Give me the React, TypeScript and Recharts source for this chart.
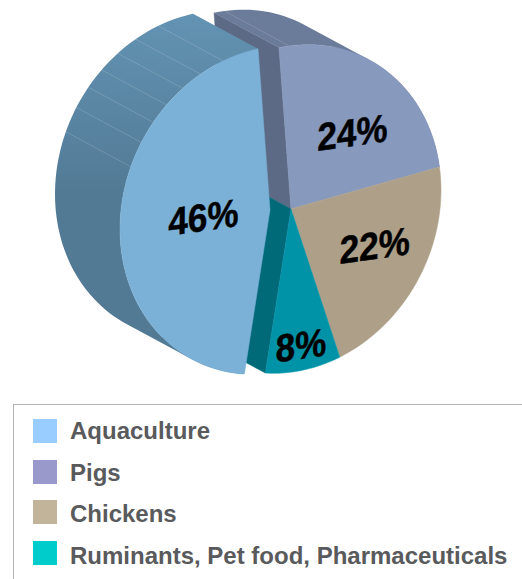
import { Legend, Pie, PieChart } from "recharts";

const categories = ["Aquaculture", "Pigs", "Chickens", "Ruminants, Pet food, Pharmaceuticals"];
const shares = [46, 24, 22, 8];
const legendColors = ["#99CCFF", "#9999CC", "#C2B49A", "#00CCCC"];
const faceColors = ["#7BB1D6", "#8799BD", "#AEA088", "#0093A8"];
const arcWallColors = ["url(#aqua-side)", "#6B7B9A", null, null];
const startWallColors = [null, "#5C6A85", null, null];
const endWallColors = [null, null, null, "#006A79"];

// how far out along the wedge each percent label sits, then a small nudge
const labelReach = [0.45, 0.57, 0.63, 0.84];
const labelNudge = [[1, 2], [8, 3], [3, -7], [0, 1]];
// clock degrees of the facet seams on the side walls
const aquaSeams = [292.5, 301.5, 309.5, 317, 325, 333, 342.4];
const pigSeams = [0];

const slices = categories.map((name, i) => ({
  name,
  value: shares[i],
  idx: i,
}));
// painted back to front, aquaculture goes last so it sits over the pig wall
const drawOrder = [...slices.slice(1), slices[0]];

const CX = 291;
const CY = 209;
const RADIUS = 163;
const DEPTH = { x: -65, y: -35 };
const EXPLODE = { x: -21, y: 1 };

type Pt = { x: number; y: number };

// tilted pie: the round sector coming from recharts goes through this shear
function project(cx: number, cy: number, r: number, deg: number): Pt {
  const a = (deg * Math.PI) / 180;
  const k = r / RADIUS;
  return {
    x: cx + k * (150 * Math.cos(a) - 1.5 * Math.sin(a)),
    y: cy + k * (-20.7 * Math.cos(a) - 163 * Math.sin(a)),
  };
}

function arc(cx: number, cy: number, r: number, from: number, to: number) {
  const steps = Math.max(2, Math.ceil(Math.abs(to - from) / 2));
  const pts: Pt[] = [];
  for (let i = 0; i <= steps; i++) pts.push(project(cx, cy, r, from + ((to - from) * i) / steps));
  return pts;
}

function toPath(pts: Pt[]) {
  return "M" + pts.map((p) => `${p.x.toFixed(2)} ${p.y.toFixed(2)}`).join("L") + "Z";
}

function shift(p: Pt): Pt {
  return { x: p.x + DEPTH.x, y: p.y + DEPTH.y };
}

function centerOf(idx: number, cx: number, cy: number): Pt {
  return idx === 0 ? { x: cx + EXPLODE.x, y: cy + EXPLODE.y } : { x: cx, y: cy };
}

// the arc swept along the depth, one quad per step, all wound the same way
function sweptArc(front: Pt[]) {
  let d = "";
  for (let i = 0; i < front.length - 1; i++) {
    const quad = [front[i], front[i + 1], shift(front[i + 1]), shift(front[i])];
    let area = 0;
    quad.forEach((p, j) => {
      const n = quad[(j + 1) % 4];
      area += p.x * n.y - n.x * p.y;
    });
    d += toPath(area < 0 ? quad.reverse() : quad);
  }
  return d;
}

function WallShape(props: any) {
  const { cx, cy, outerRadius, startAngle, endAngle, payload } = props;
  const idx = payload.idx;
  const c = centerOf(idx, cx, cy);
  const front = arc(c.x, c.y, outerRadius, startAngle, endAngle);
  const first = front[0];
  const last = front[front.length - 1];
  const seams = idx === 0 ? aquaSeams : idx === 1 ? pigSeams : [];
  return (
    <g>
      {startWallColors[idx] && (
        <path d={toPath([c, first, shift(first), shift(c)])} fill={startWallColors[idx]} stroke={startWallColors[idx]} strokeWidth={0.5} />
      )}
      {endWallColors[idx] && (
        <path d={toPath([c, last, shift(last), shift(c)])} fill={endWallColors[idx]} stroke={endWallColors[idx]} strokeWidth={0.5} />
      )}
      {arcWallColors[idx] && <path d={sweptArc(front)} fill={arcWallColors[idx]} />}
      {seams.map((s) => {
        const p = project(c.x, c.y, outerRadius, 90 - s);
        const q = shift(p);
        return <line key={s} x1={p.x} y1={p.y} x2={q.x} y2={q.y} stroke="#FFFFFF" strokeOpacity={0.22} strokeWidth={0.7} />;
      })}
    </g>
  );
}

function FaceShape(props: any) {
  const { cx, cy, outerRadius, startAngle, endAngle, payload } = props;
  const idx = payload.idx;
  const c = centerOf(idx, cx, cy);
  const color = faceColors[idx];
  return <path d={toPath([c, ...arc(c.x, c.y, outerRadius, startAngle, endAngle)])} fill={color} stroke={color} strokeWidth={0.5} />;
}

function percentLabel(props: any) {
  const { cx, cy, outerRadius, midAngle, payload, value } = props;
  const idx = payload.idx;
  const c = centerOf(idx, cx, cy);
  const p = project(c.x, c.y, outerRadius * labelReach[idx], midAngle);
  const [nx, ny] = labelNudge[idx];
  return (
    <text
      key={idx}
      textAnchor="middle"
      dominantBaseline="central"
      transform={`translate(${p.x + nx} ${p.y + ny}) matrix(0.9 -0.127 -0.01 1 0 0)`}
      fontFamily="Liberation Sans, Arial, sans-serif"
      fontWeight={700}
      fontSize={39}
      fill="#000000"
      stroke="#000000"
      strokeWidth={0.5}
    >
      {value}%
    </text>
  );
}

function LegendBox() {
  return (
    <div
      style={{
        boxSizing: "border-box",
        width: 509,
        height: 175,
        borderLeft: "1.5px solid #B2B2B2",
        borderTop: "1.5px solid #B2B2B2",
        paddingTop: 14,
        paddingLeft: 19,
      }}
    >
      {slices.map((s, i) => (
        <div key={s.name} style={{ display: "flex", alignItems: "center", height: 24, marginBottom: 16.7 }}>
          <span style={{ width: 24, height: 24, background: legendColors[i], marginRight: 13, flex: "none" }} />
          <span
            style={{
              position: "relative",
              top: i,
              fontFamily: "Liberation Sans, Arial, sans-serif",
              fontWeight: 700,
              fontSize: 24,
              color: "#595A5C",
              whiteSpace: "nowrap",
            }}
          >
            {s.name}
          </span>
        </div>
      ))}
    </div>
  );
}

export default function App() {
  return (
    <div style={{ position: "absolute", left: 0, top: 0, width: 522, height: 579, overflow: "hidden", background: "#fff" }}>
      <PieChart width={522} height={579} margin={{ top: 0, right: 0, bottom: 0, left: 0 }}>
        <defs>
          <linearGradient id="aqua-side" x1="0" y1="0" x2="0" y2="1">
            <stop offset="0%" stopColor="#6393B3" />
            <stop offset="50%" stopColor="#527A95" />
            <stop offset="100%" stopColor="#527A93" />
          </linearGradient>
        </defs>
        <Pie
          data={drawOrder}
          dataKey="value"
          nameKey="name"
          cx={CX}
          cy={CY}
          outerRadius={RADIUS}
          startAngle={94}
          endAngle={-266}
          stroke="none"
          shape={WallShape}
          isAnimationActive={false}
        />
        <Pie
          data={drawOrder}
          dataKey="value"
          nameKey="name"
          cx={CX}
          cy={CY}
          outerRadius={RADIUS}
          startAngle={94}
          endAngle={-266}
          stroke="none"
          shape={FaceShape}
          label={percentLabel}
          labelLine={false}
          isAnimationActive={false}
        />
        <Legend content={LegendBox} wrapperStyle={{ left: 13, top: 404, width: 509, height: 175, bottom: "auto" }} />
      </PieChart>
    </div>
  );
}
